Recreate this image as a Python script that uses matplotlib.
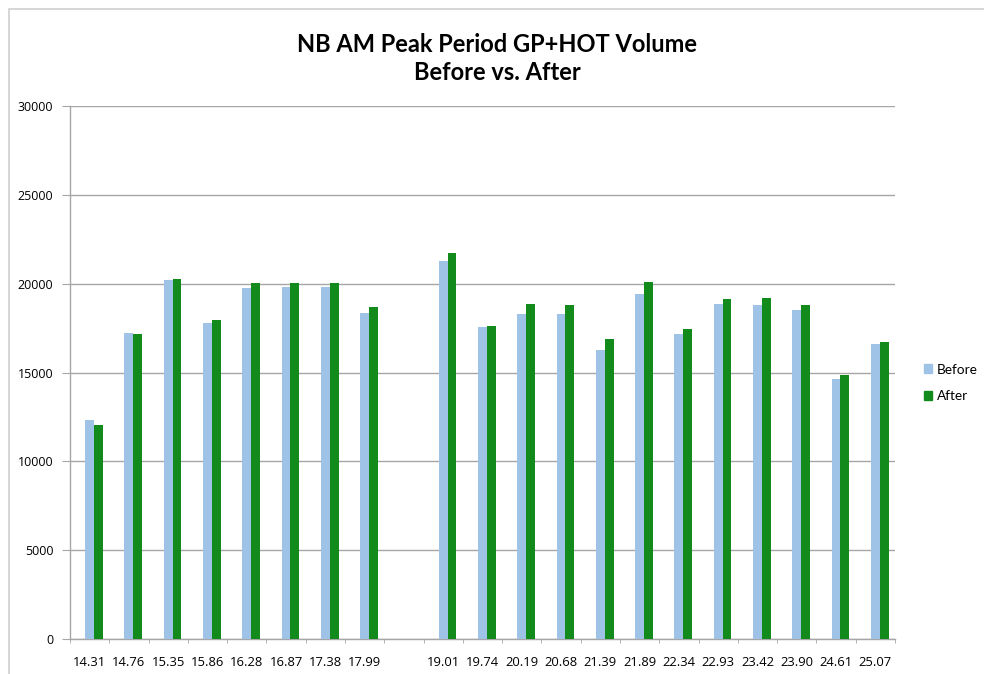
import numpy as np
import matplotlib
matplotlib.use("Agg")
import matplotlib.pyplot as plt
from matplotlib.patches import Rectangle, Patch

categories = ["14.31", "14.76", "15.35", "15.86", "16.28", "16.87", "17.38", "17.99", "",
              "19.01", "19.74", "20.19", "20.68", "21.39", "21.89", "22.34", "22.93",
              "23.42", "23.90", "24.61", "25.07"]
before = [12300, 17240, 20190, 17800, 19780, 19810, 19830, 18370, np.nan,
          21260, 17560, 18310, 18310, 16280, 19400, 17160, 18860,
          18780, 18500, 14610, 16580]
after = [12030, 17190, 20290, 17980, 20040, 20010, 20040, 18670, np.nan,
         21700, 17600, 18840, 18820, 16860, 20100, 17440, 19120,
         19180, 18780, 14850, 16710]
yticks = [0, 5000, 10000, 15000, 20000, 25000, 30000]

plt.rcParams['font.family'] = ['Lato', 'DejaVu Sans']

fig = plt.figure(figsize=(9.84, 6.74), dpi=100)
fig.patch.set_facecolor('white')

# outer chart frame
fig.patches.append(Rectangle((9/984, -0.05), 1.05, 1 - 9/674 + 0.05, transform=fig.transFigure,
                             fill=False, edgecolor='#d0d0d0', linewidth=1.2))

ax = fig.add_axes([70/984, 35/674, (895-70)/984, (639-106)/674])
x = np.arange(len(categories))
w = 0.225
shift = 0.11
ax.bar(x + shift - w/2, before, width=w, color='#9fc3e7', label='Before', zorder=3)
ax.bar(x + shift + w/2, after, width=w, color='#138b1c', label='After', zorder=3)

ax.set_xlim(-0.5, len(categories) - 0.5)
ax.set_ylim(0, 30000)
ax.set_yticks(yticks)
ax.set_yticklabels([str(v) for v in yticks], fontsize=9, family=['Open Sans', 'DejaVu Sans'])
ax.yaxis.grid(True, color='#a6a6a6', linewidth=1.0, zorder=0)
ax.set_axisbelow(True)

ax.set_xticks(x)
ax.set_xticklabels(categories, fontsize=9.4, family=['Open Sans', 'DejaVu Sans'])
ax.tick_params(axis='x', which='major', length=0, pad=12)
ax.set_xticks(np.arange(-0.5, len(categories) + 0.5, 1), minor=True)
ax.tick_params(axis='x', which='minor', length=3, color='#a6a6a6', direction='out')
ax.tick_params(axis='y', length=6, color='#a6a6a6', pad=6)

for s in ['top', 'right']:
    ax.spines[s].set_visible(False)
for s in ['left', 'bottom']:
    ax.spines[s].set_color('#a6a6a6')
    ax.spines[s].set_linewidth(1.0)

fig.text(0.505, 1 - 45/674, "NB AM Peak Period GP+HOT Volume", ha='center', va='center',
         fontsize=17, fontweight='bold')
fig.text(0.505, 1 - 73/674, "Before vs. After", ha='center', va='center',
         fontsize=17, fontweight='bold')

handles = [Patch(color='#9fc3e7', label='Before'), Patch(color='#138b1c', label='After')]
fig.legend(handles=handles, loc='center left', bbox_to_anchor=(912/984, 1 - 383/674),
           frameon=False, fontsize=9.8, handlelength=0.6, handleheight=0.6,
           handletextpad=0.3, labelspacing=1.1)

fig.savefig("out.png", dpi=100)
